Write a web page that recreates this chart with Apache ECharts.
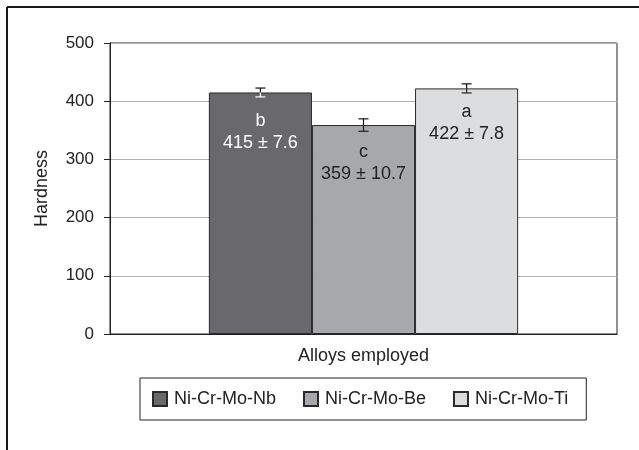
<!DOCTYPE html>
<html>
<head>
<meta charset="utf-8">
<script src="https://cdn.jsdelivr.net/npm/echarts@6/dist/echarts.min.js"></script>
<style>html,body{margin:0;padding:0;background:#fff;}#c{width:639px;height:450px;}</style>
</head>
<body>
<div id="c"></div>
<script>
var categories = [''];
var seriesNames = ['Ni-Cr-Mo-Nb', 'Ni-Cr-Mo-Be', 'Ni-Cr-Mo-Ti'];
var hardness = [415, 359, 422];
var errors = [7.6, 10.7, 7.8];
var letters = ['b', 'c', 'a'];
var yTicks = [0, 100, 200, 300, 400, 500];

var colors = ['#69696d', '#a7a8ab', '#dcdddf'];
var labelColors = ['#ffffff', '#222222', '#222222'];
var labelDist = [18, 16, 13];
var gapPct = 0.39;
var FONT = '"Liberation Sans", Arial, sans-serif';

var chart = echarts.init(document.getElementById('c'), null, {renderer: 'canvas'});

var series = seriesNames.map(function (name, i) {
  return {
    name: name,
    type: 'bar',
    data: [hardness[i]],
    barGap: '0%',
    barCategoryGap: (gapPct * 100) + '%',
    itemStyle: {color: colors[i], borderColor: '#2a2a2a', borderWidth: 1},
    label: {
      show: true,
      position: 'insideTop',
      distance: labelDist[i],
      color: labelColors[i],
      fontFamily: FONT,
      fontSize: 18,
      lineHeight: 22,
      formatter: function () {
        return letters[i] + '\n' + hardness[i] + ' \u00b1 ' + errors[i];
      }
    },
    emphasis: {disabled: true},
    silent: true
  };
});

var errData = hardness.map(function (v, i) { return [0, v, errors[i], i]; });

series.push({
  type: 'custom',
  silent: true,
  data: errData,
  encode: {x: 0, y: 1},
  z: 10,
  renderItem: function (params, api) {
    var cat = api.value(0), v = api.value(1), e = api.value(2), idx = api.value(3);
    var center = api.coord([cat, v]);
    var band = api.size([1, 0])[0];
    var bw = band * (1 - gapPct) / 3;
    var x = center[0] + (idx - 1) * bw;
    var yv = center[1];
    var yHi = api.coord([cat, v + e])[1];
    var yLo = api.coord([cat, v - e])[1];
    var cap = 5;
    var inner = labelColors[idx];
    var st = {stroke: '#111', lineWidth: 1.2};
    var st2 = {stroke: inner, lineWidth: 1.2};
    return {
      type: 'group',
      children: [
        {type: 'line', shape: {x1: x, y1: yHi, x2: x, y2: yv}, style: st},
        {type: 'line', shape: {x1: x - cap, y1: yHi, x2: x + cap, y2: yHi}, style: st},
        {type: 'line', shape: {x1: x, y1: yv, x2: x, y2: yLo}, style: st2},
        {type: 'line', shape: {x1: x - cap, y1: yLo, x2: x + cap, y2: yLo}, style: st2}
      ]
    };
  }
});

chart.setOption({
  animation: false,
  backgroundColor: '#ffffff',
  textStyle: {fontFamily: FONT, color: '#222'},
  grid: {
    left: 110, right: 22, top: 43, bottom: 116,
    show: true, borderColor: '#222', borderWidth: 1, backgroundColor: 'transparent'
  },
  legend: {
    data: seriesNames,
    left: 140,
    top: 378,
    orient: 'horizontal',
    itemWidth: 14,
    itemHeight: 14,
    itemGap: 27,
    padding: [12, 18, 12, 12],
    borderColor: '#222',
    borderWidth: 1,
    icon: 'rect',
    textStyle: {fontFamily: FONT, fontSize: 18, color: '#222', padding: [0, 0, 0, 2]},
    selectedMode: false
  },
  xAxis: {
    type: 'category',
    data: categories,
    name: 'Alloys employed',
    nameLocation: 'middle',
    nameGap: 13,
    nameTextStyle: {fontFamily: FONT, fontSize: 18, color: '#222'},
    axisLine: {show: true, lineStyle: {color: '#222', width: 1}},
    axisTick: {show: false},
    axisLabel: {show: false},
    splitLine: {show: false}
  },
  yAxis: {
    type: 'value',
    min: yTicks[0],
    max: yTicks[yTicks.length - 1],
    interval: 100,
    name: 'Hardness',
    nameLocation: 'middle',
    nameGap: 59,
    nameTextStyle: {fontFamily: FONT, fontSize: 18, color: '#222'},
    axisLine: {show: true, lineStyle: {color: '#222', width: 1}},
    axisTick: {show: true, inside: false, length: 6, lineStyle: {color: '#222'}},
    axisLabel: {fontFamily: FONT, fontSize: 17, color: '#222', margin: 16},
    splitLine: {show: true, lineStyle: {color: '#b0b0b0', width: 1}}
  },
  graphic: [
    {type: 'line', shape: {x1: 7, y1: 7, x2: 639, y2: 7}, style: {stroke: '#1a1a1a', lineWidth: 2}, silent: true},
    {type: 'line', shape: {x1: 7, y1: 7, x2: 7, y2: 450}, style: {stroke: '#1a1a1a', lineWidth: 2}, silent: true}
  ],
  series: series
});
</script>
</body>
</html>
